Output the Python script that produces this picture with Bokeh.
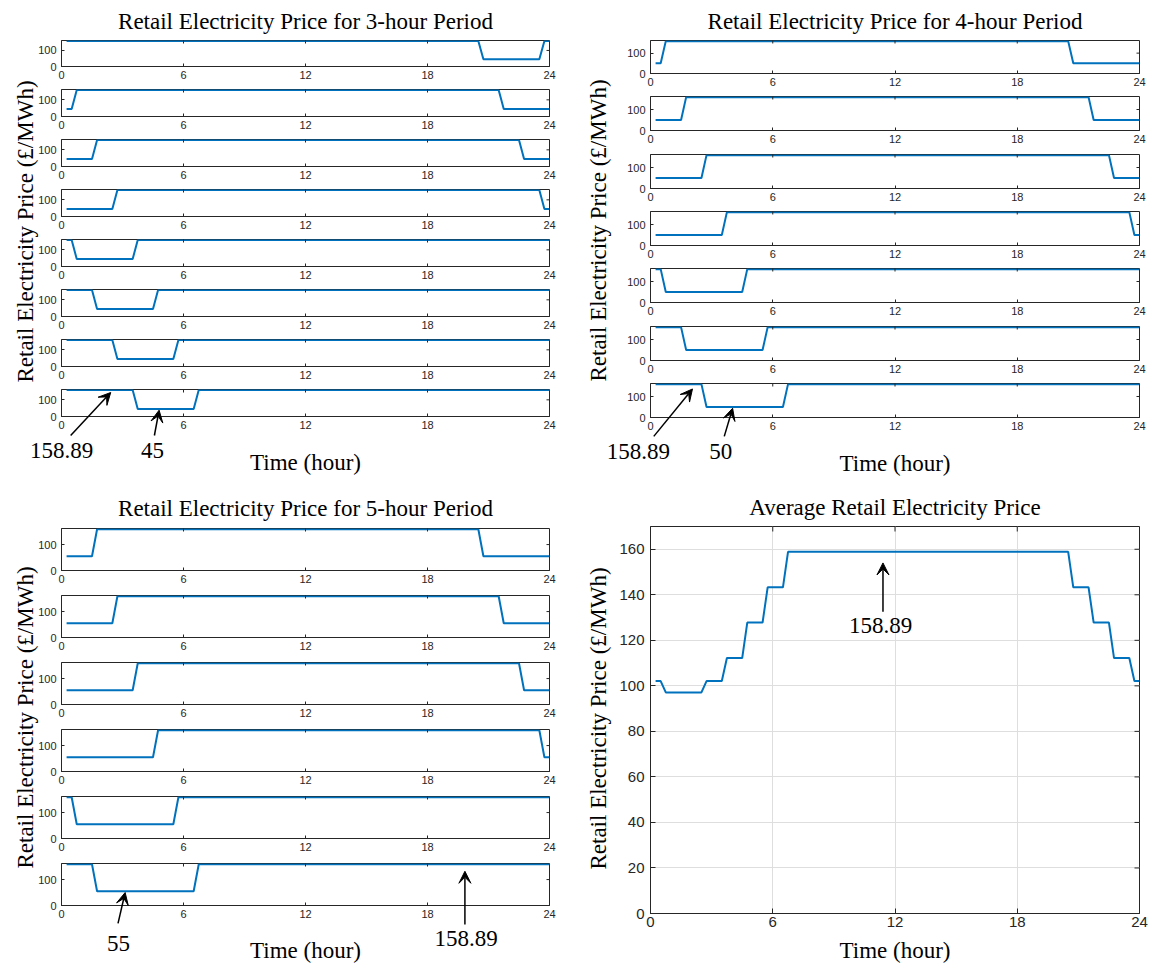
import math
from bokeh.plotting import figure
from bokeh.layouts import row, column
from bokeh.models import Range1d, FixedTicker, Label, Arrow, VeeHead, GridBox
from bokeh.embed import file_html
from bokeh.resources import INLINE

# ---------------- data ----------------
HOUR_TICKS = [0, 6, 12, 18, 24]
SUB_Y_TICKS = [0, 100]
AVG_Y_TICKS = [0, 20, 40, 60, 80, 100, 120, 140, 160]

# 3-hour period: polyline vertices of each of the 8 rows (hour, price)
P3_X = [
    [0.25, 20.5, 20.75, 23.5, 23.75, 24],
    [0.25, 0.5, 0.75, 21.5, 21.75, 24],
    [0.25, 1.5, 1.75, 22.5, 22.75, 24],
    [0.25, 2.5, 2.75, 23.5, 23.75, 24],
    [0.25, 0.5, 0.75, 3.5, 3.75, 24],
    [0.25, 1.5, 1.75, 4.5, 4.75, 24],
    [0.25, 2.5, 2.75, 5.5, 5.75, 24],
    [0.25, 3.5, 3.75, 6.5, 6.75, 24],
]
P3_Y = [
    [158.89, 158.89, 45, 45, 158.89, 158.89],
    [45, 45, 158.89, 158.89, 45, 45],
    [45, 45, 158.89, 158.89, 45, 45],
    [45, 45, 158.89, 158.89, 45, 45],
    [158.89, 158.89, 45, 45, 158.89, 158.89],
    [158.89, 158.89, 45, 45, 158.89, 158.89],
    [158.89, 158.89, 45, 45, 158.89, 158.89],
    [158.89, 158.89, 45, 45, 158.89, 158.89],
]

# 4-hour period: 7 rows
P4_X = [
    [0.25, 0.5, 0.75, 20.5, 20.75, 24],
    [0.25, 1.5, 1.75, 21.5, 21.75, 24],
    [0.25, 2.5, 2.75, 22.5, 22.75, 24],
    [0.25, 3.5, 3.75, 23.5, 23.75, 24],
    [0.25, 0.5, 0.75, 4.5, 4.75, 24],
    [0.25, 1.5, 1.75, 5.5, 5.75, 24],
    [0.25, 2.5, 2.75, 6.5, 6.75, 24],
]
P4_Y = [
    [50, 50, 158.89, 158.89, 50, 50],
    [50, 50, 158.89, 158.89, 50, 50],
    [50, 50, 158.89, 158.89, 50, 50],
    [50, 50, 158.89, 158.89, 50, 50],
    [158.89, 158.89, 50, 50, 158.89, 158.89],
    [158.89, 158.89, 50, 50, 158.89, 158.89],
    [158.89, 158.89, 50, 50, 158.89, 158.89],
]

# 5-hour period: 6 rows
P5_X = [
    [0.25, 1.5, 1.75, 20.5, 20.75, 24],
    [0.25, 2.5, 2.75, 21.5, 21.75, 24],
    [0.25, 3.5, 3.75, 22.5, 22.75, 24],
    [0.25, 4.5, 4.75, 23.5, 23.75, 24],
    [0.25, 0.5, 0.75, 5.5, 5.75, 24],
    [0.25, 1.5, 1.75, 6.5, 6.75, 24],
]
P5_Y = [
    [55, 55, 158.89, 158.89, 55, 55],
    [55, 55, 158.89, 158.89, 55, 55],
    [55, 55, 158.89, 158.89, 55, 55],
    [55, 55, 158.89, 158.89, 55, 55],
    [158.89, 158.89, 55, 55, 158.89, 158.89],
    [158.89, 158.89, 55, 55, 158.89, 158.89],
]

# average price
AVG_X = [0.25, 0.5, 0.75, 2.5, 2.75, 3.5, 3.75, 4.5, 4.75, 5.5, 5.75, 6.5,
         6.75, 20.5, 20.75, 21.5, 21.75, 22.5, 22.75, 23.5, 23.75, 24]
AVG_Y = [102.1, 102.1, 97.1, 97.1, 102.1, 102.1, 112.2, 112.2, 127.8, 127.8,
         143.3, 143.3, 158.89, 158.89, 143.3, 143.3, 127.8, 127.8, 112.2, 112.2,
         102.1, 102.1]

# ---------------- style ----------------
SERIF = "Liberation Serif"
SANS = "Liberation Sans"
DARK = "#262626"
BLUE = "#0072BD"
YLABEL = "Retail Electricity Price (\u00a3/MWh)"
XLABEL = "Time (hour)"
SUB_YMAX = 162
AVG_YMAX = 170
PAGE_W, PAGE_H = 1149, 967


def style_axes(p, font_size, tick_in, standoff):
    for ax in p.axis:
        ax.axis_line_color = DARK
        ax.major_tick_line_color = DARK
        ax.major_tick_in = tick_in
        ax.major_tick_out = 0
        ax.minor_tick_line_color = None
        ax.major_label_text_font = SANS
        ax.major_label_text_font_size = font_size
        ax.major_label_text_color = DARK
        ax.major_label_standoff = standoff
    p.outline_line_color = DARK
    p.outline_line_alpha = 1
    p.outline_line_width = 1


def box_ticks(p, xticks, yticks, xmax, ymax, size):
    # inward ticks on top and right sides (box on); half is clipped by the frame
    p.scatter(x=xticks, y=[ymax] * len(xticks), marker="dash", angle=math.pi / 2,
              size=size, line_color=DARK, line_width=1)
    p.scatter(x=[xmax] * len(yticks), y=yticks, marker="dash",
              size=size, line_color=DARK, line_width=1)


def style_title(p, standoff):
    p.title.text_font = SERIF
    p.title.text_font_size = "23px"
    p.title.text_font_style = "normal"
    p.title.text_color = "black"
    p.title.align = "center"
    p.title.standoff = standoff


def style_xlabel(p, standoff):
    p.xaxis.axis_label = XLABEL
    p.xaxis.axis_label_text_font = SERIF
    p.xaxis.axis_label_text_font_size = "23px"
    p.xaxis.axis_label_text_font_style = "normal"
    p.xaxis.axis_label_text_color = "black"
    p.xaxis.axis_label_standoff = standoff


def make_stack(xs_rows, ys_rows, frame_tops, frame_h, panel_h, gap_b,
               left_b, frame_w, right_b, title, title_standoff, label_standoff):
    figs = []
    n = len(xs_rows)
    start = 0
    for k in range(n):
        top = frame_tops[k]
        end = top + frame_h + gap_b if k < n - 1 else panel_h
        p = figure(width=left_b + frame_w + right_b, height=end - start,
                   x_range=Range1d(0, 24), y_range=Range1d(0, SUB_YMAX),
                   min_border_left=left_b, min_border_right=right_b,
                   min_border_top=top - start, min_border_bottom=end - (top + frame_h),
                   toolbar_location=None, output_backend="svg",
                   title=title if k == 0 else None)
        p.line(x=xs_rows[k], y=ys_rows[k], line_color=BLUE, line_width=2)
        p.xaxis.ticker = FixedTicker(ticks=HOUR_TICKS)
        p.yaxis.ticker = FixedTicker(ticks=SUB_Y_TICKS)
        p.grid.visible = False
        style_axes(p, "11px", 3, 5)
        p.xaxis.major_label_standoff = 4
        box_ticks(p, HOUR_TICKS[1:-1], SUB_Y_TICKS[1:], 24, SUB_YMAX, 6)
        if k == 0:
            style_title(p, title_standoff)
        if k == n - 1:
            style_xlabel(p, label_standoff)
        figs.append(p)
        start = end
    return figs


def page_range(p0, p1, v0, v1, total):
    # range for a full-page overlay so that page pixel p0 -> v0 and p1 -> v1
    scale = (v1 - v0) / (p1 - p0)
    return Range1d(start=v0 - p0 * scale, end=v0 + (total - p0) * scale)


def annotate(p, text, tx, ty, x0, y0, x1, y1, xr="default", yr="default"):
    p.add_layout(Label(x=tx, y=ty, text=text, text_align="center",
                       text_baseline="middle", text_font=SERIF,
                       text_font_size="23px", text_color="black",
                       x_range_name=xr, y_range_name=yr))
    p.add_layout(Arrow(x_start=x0, y_start=y0, x_end=x1, y_end=y1,
                       line_color="black", line_width=1.5,
                       x_range_name=xr, y_range_name=yr,
                       end=VeeHead(size=12, fill_color="black", line_color="black")))


# ---------------- top-left: 3-hour ----------------
tl_figs = make_stack(P3_X, P3_Y, [39 + 50 * k for k in range(8)], 27, 480, 18,
                     61, 488, 26, "Retail Electricity Price for 3-hour Period", 13, 18)

# ---------------- top-right: 4-hour ----------------
tr_figs = make_stack(P4_X, P4_Y, [39, 96, 154, 211, 268, 326, 383], 34, 480, 17,
                     75, 489, 10, "Retail Electricity Price for 4-hour Period", 13, 18)

# ---------------- bottom-left: 5-hour ----------------
bl_figs = make_stack(P5_X, P5_Y, [48, 115, 182, 249, 316, 383], 42, 487, 19,
                     61, 488, 26, "Retail Electricity Price for 5-hour Period", 15, 17)

# ---------------- bottom-right: average ----------------
avg = figure(width=574, height=487, x_range=Range1d(0, 24), y_range=Range1d(0, AVG_YMAX),
             min_border_left=75, min_border_right=10, min_border_top=46, min_border_bottom=54,
             toolbar_location=None, output_backend="svg",
             title="Average Retail Electricity Price")
avg.line(x=AVG_X, y=AVG_Y, line_color=BLUE, line_width=2)
avg.xaxis.ticker = FixedTicker(ticks=HOUR_TICKS)
avg.yaxis.ticker = FixedTicker(ticks=AVG_Y_TICKS)
avg.xgrid.ticker = FixedTicker(ticks=HOUR_TICKS)
avg.ygrid.ticker = FixedTicker(ticks=AVG_Y_TICKS)
avg.grid.grid_line_color = "#dedede"
avg.grid.grid_line_width = 1
style_axes(avg, "15px", 5, 6)
avg.xaxis.major_label_standoff = 3
box_ticks(avg, HOUR_TICKS[1:-1], AVG_Y_TICKS[1:], 24, AVG_YMAX, 10)
style_title(avg, 14)
style_xlabel(avg, 8)
annotate(avg, "158.89", 11.3, 126.5, 11.41, 132.5, 11.41, 154)

main = column(row(column(*tl_figs), column(*tr_figs)),
              row(column(*bl_figs), avg))

# ---------------- transparent overlay for labels and arrows that cross borders ----------------
ov = figure(width=PAGE_W, height=PAGE_H, x_range=Range1d(0, PAGE_W), y_range=Range1d(0, PAGE_H),
            min_border=0, x_axis_location=None, y_axis_location=None,
            toolbar_location=None, output_backend="svg",
            background_fill_color=None, border_fill_color=None, outline_line_color=None)
ov.grid.visible = False
# data coordinates of the bottom row of each stacked panel, mapped onto the page
ov.extra_x_ranges = {
    "left_x": page_range(61, 549, 0, 24, PAGE_W),
    "right_x": page_range(650, 1139, 0, 24, PAGE_W),
}
ov.extra_y_ranges = {
    "tl_y": page_range(PAGE_H - 416, PAGE_H - 389, 0, SUB_YMAX, PAGE_H),
    "tr_y": page_range(PAGE_H - 417, PAGE_H - 383, 0, SUB_YMAX, PAGE_H),
    "bl_y": page_range(PAGE_H - 905, PAGE_H - 863, 0, SUB_YMAX, PAGE_H),
}

# y-axis titles (page pixels, centre of each rotated title)
for yx, yy in [(25, 231), (598, 230), (25, 717), (598, 718)]:
    ov.add_layout(Label(x=yx, y=PAGE_H - yy, text=YLABEL, angle=math.pi / 2,
                        text_align="center", text_baseline="middle",
                        text_font=SERIF, text_font_size="23px", text_color="black"))

annotate(ov, "158.89", 0.0, -204, 0.45, -114, 2.42, 144, "left_x", "tl_y")
annotate(ov, "45", 4.48, -204, 4.57, -114, 4.8, 38, "left_x", "tl_y")
annotate(ov, "158.89", -0.6, -162, 0.16, -90, 2.06, 136, "right_x", "tr_y")
annotate(ov, "50", 3.45, -162, 3.62, -90, 4.03, 44, "right_x", "tr_y")
annotate(ov, "55", 2.8, -147, 2.78, -69, 3.13, 50, "left_x", "bl_y")
annotate(ov, "158.89", 19.9, -127, 19.84, -73, 19.84, 132, "left_x", "bl_y")

page = GridBox(children=[(main, 0, 0), (ov, 0, 0)])

open("out.html", "w").write(file_html(page, INLINE))
